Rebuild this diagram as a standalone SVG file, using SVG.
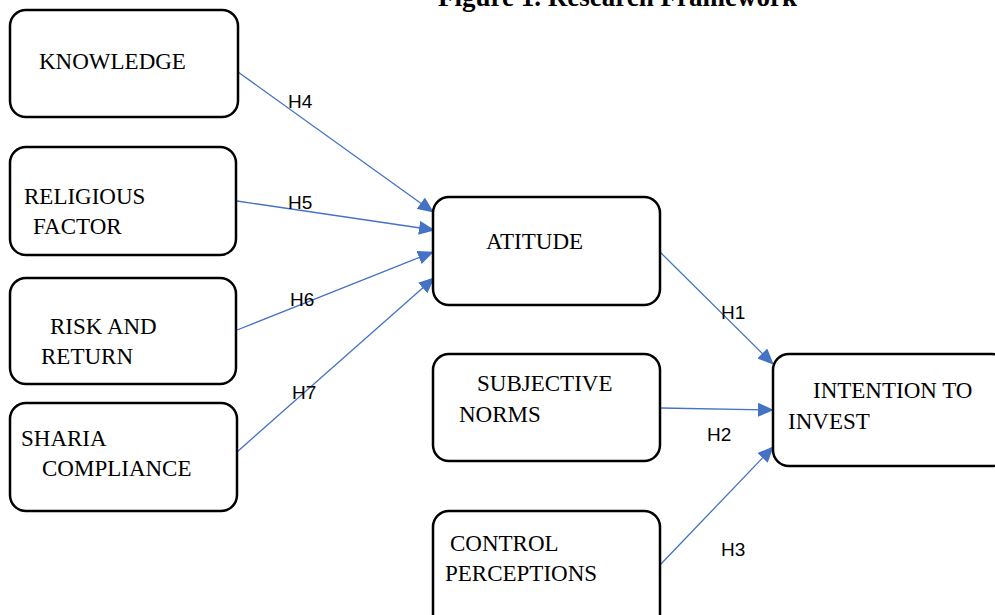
<svg xmlns="http://www.w3.org/2000/svg" width="995" height="615" viewBox="0 0 995 615">
<style>
.box{fill:#fff;stroke:#000;stroke-width:2.5}
.t{font-family:"Liberation Serif","Times New Roman",serif;font-size:23px;fill:#000}
.h{font-family:"Liberation Sans",Arial,sans-serif;font-size:19px;fill:#000}
.c{stroke:#4472C4;stroke-width:1.3;fill:none;marker-end:url(#ah)}
.title{font-family:"Liberation Serif","Times New Roman",serif;font-size:27px;font-weight:bold;fill:#000}
</style>
<defs>
<marker id="ah" markerUnits="userSpaceOnUse" markerWidth="16" markerHeight="14" viewBox="0 0 16 14" refX="15" refY="7" orient="auto">
<path d="M0,0 L16,7 L0,14 Z" fill="#4472C4"/>
</marker>
</defs>
<text class="title" x="438" y="6">Figure 1. Research Framework</text>
<g id="connectors">
<line class="c" x1="238" y1="72" x2="433" y2="212"/>
<line class="c" x1="237" y1="201" x2="434" y2="230"/>
<line class="c" x1="237" y1="330" x2="433" y2="252"/>
<line class="c" x1="237" y1="452" x2="434" y2="278"/>
<line class="c" x1="660" y1="252" x2="773" y2="364"/>
<line class="c" x1="661" y1="408" x2="773" y2="410"/>
<line class="c" x1="660" y1="565" x2="773" y2="447"/>
<text class="h" x="288" y="108">H4</text>
<text class="h" x="288" y="209">H5</text>
<text class="h" x="290" y="306">H6</text>
<text class="h" x="292" y="399">H7</text>
<text class="h" x="721" y="319">H1</text>
<text class="h" x="707" y="441">H2</text>
<text class="h" x="721" y="556">H3</text>
</g>
<g id="knowledge">
<rect class="box" x="10" y="10" width="228" height="107" rx="16"/>
<text class="t" x="39" y="69">KNOWLEDGE</text>
</g>
<g id="religious">
<rect class="box" x="10" y="147" width="226" height="108" rx="16"/>
<text class="t" x="24" y="204">RELIGIOUS</text>
<text class="t" x="33" y="234">FACTOR</text>
</g>
<g id="risk">
<rect class="box" x="10" y="278" width="226" height="106" rx="16"/>
<text class="t" x="50" y="334">RISK AND</text>
<text class="t" x="41" y="364">RETURN</text>
</g>
<g id="sharia">
<rect class="box" x="10" y="403" width="227" height="108" rx="16"/>
<text class="t" x="21" y="446">SHARIA</text>
<text class="t" x="42" y="476">COMPLIANCE</text>
</g>
<g id="atitude">
<rect class="box" x="433" y="197" width="227" height="108" rx="16"/>
<text class="t" x="486" y="249">ATITUDE</text>
</g>
<g id="subjective">
<rect class="box" x="433" y="354" width="227" height="107" rx="16"/>
<text class="t" x="477" y="391">SUBJECTIVE</text>
<text class="t" x="459" y="422">NORMS</text>
</g>
<g id="control">
<rect class="box" x="433" y="511" width="227" height="120" rx="16"/>
<text class="t" x="450" y="551">CONTROL</text>
<text class="t" x="445" y="581">PERCEPTIONS</text>
</g>
<g id="intention">
<rect class="box" x="773" y="354" width="235" height="112" rx="16"/>
<text class="t" x="813" y="398">INTENTION TO</text>
<text class="t" x="788" y="429">INVEST</text>
</g>
</svg>
